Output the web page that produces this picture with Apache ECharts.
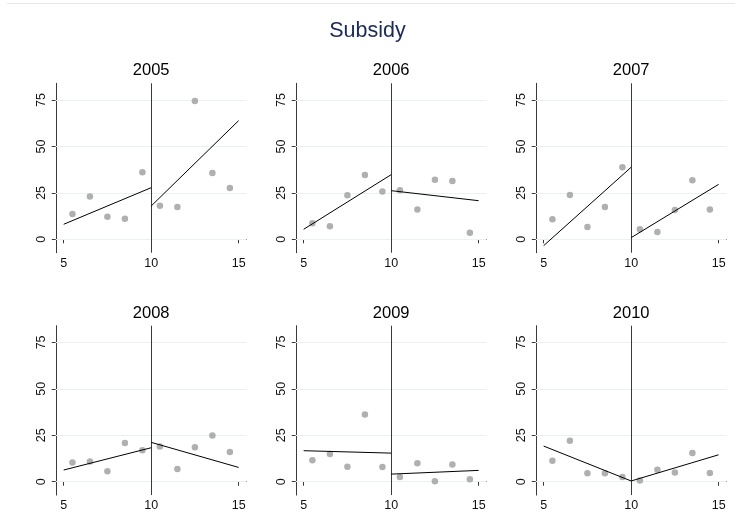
<!DOCTYPE html>
<html>
<head>
<meta charset="utf-8">
<script src="https://cdn.jsdelivr.net/npm/echarts@6/dist/echarts.min.js"></script>
<style>html,body{margin:0;padding:0;background:#fff;}#c{width:735px;height:523px;}</style>
</head>
<body>
<div id="c"></div>
<script>
const mainTitle = 'Subsidy';
const years = ['2005','2006','2007','2008','2009','2010'];
const xTicks = [5, 10, 15];
const yTicks = [0, 25, 50, 75];
const cutoff = 10;
const binX = [5.5, 6.5, 7.5, 8.5, 9.5, 10.5, 11.5, 12.5, 13.5, 14.5];
const leftX = [5, 10];
const rightX = [10, 15];

const y2005 = [13.6, 23.0, 12.2, 11.1, 36.1, 18.1, 17.4, 74.5, 35.7, 27.6];
const y2006 = [8.6, 7.0, 23.7, 34.6, 25.8, 26.4, 16.1, 32.1, 31.4, 3.6];
const y2007 = [10.8, 23.9, 6.6, 17.4, 38.8, 5.4, 3.9, 15.8, 31.8, 16.1];
const y2008 = [10.4, 10.9, 5.6, 20.8, 16.9, 19.0, 6.8, 18.5, 24.9, 16.0];
const y2009 = [11.5, 14.9, 8.1, 36.2, 7.9, 2.5, 9.9, 0.2, 9.3, 1.4];
const y2010 = [11.3, 22.1, 4.5, 4.5, 2.5, 0.7, 6.5, 5.0, 15.4, 4.7];

const fitL2005 = [8.1, 27.8],  fitR2005 = [17.9, 63.9];
const fitL2006 = [5.4, 34.8],  fitR2006 = [26.2, 20.8];
const fitL2007 = [-3.4, 38.8], fitR2007 = [0.9, 29.6];
const fitL2008 = [6.3, 18.3],  fitR2008 = [21.2, 7.7];
const fitL2009 = [16.7, 15.4], fitR2009 = [4.1, 6.1];
const fitL2010 = [19.2, 0.4],  fitR2010 = [0.4, 14.5];

const binY = [y2005, y2006, y2007, y2008, y2009, y2010];
const fitL = [fitL2005, fitL2006, fitL2007, fitL2008, fitL2009, fitL2010];
const fitR = [fitR2005, fitR2006, fitR2007, fitR2008, fitR2009, fitR2010];

// layout
const colLeft = [55.8, 295.8, 535.8];
const rowTop = [83.3, 325.7];
const gW = 190.7, gH = 169.4;
const xMin = 4.55, xMax = 15.45, yMin = -7.2, yMax = 84;

const grids = [], xAxes = [], yAxes = [], series = [], graphics = [];
const axisColor = '#3a3a3a';
const font = 'Liberation Sans, Arial, Helvetica, sans-serif';

years.forEach((yr, i) => {
  const col = i % 3, row = Math.floor(i / 3);
  grids.push({left: colLeft[col], top: rowTop[row], width: gW, height: gH});
  xAxes.push({
    type: 'value', gridIndex: i, min: xMin, max: xMax,
    axisLine: {show: true, lineStyle: {color: axisColor, width: 1}},
    axisTick: {show: true, length: 4, customValues: xTicks, lineStyle: {color: axisColor}},
    axisLabel: {customValues: xTicks, fontSize: 12.5, color: '#111', margin: 4, fontFamily: font},
    splitLine: {show: false}
  });
  yAxes.push({
    type: 'value', gridIndex: i, min: yMin, max: yMax,
    axisLine: {show: true, lineStyle: {color: axisColor, width: 1}},
    axisTick: {show: true, length: 4, customValues: yTicks, lineStyle: {color: axisColor}},
    axisLabel: {customValues: yTicks, rotate: 90, fontSize: 12.5, color: '#111', margin: 8, fontFamily: font},
    splitLine: {show: false}
  });
  const mlData = yTicks.map(v => ({yAxis: v, lineStyle: {color: '#e9f1f3', width: 1, type: 'solid'}}));
  series.push({
    type: 'scatter', xAxisIndex: i, yAxisIndex: i,
    data: binX.map((x, k) => [x, binY[i][k]]),
    symbolSize: 6.5, itemStyle: {color: '#9c9c9c'}, z: 3,
    markLine: {silent: true, z: 1, symbol: 'none', label: {show: false}, animation: false, data: mlData}
  });
  series.push({
    type: 'line', xAxisIndex: i, yAxisIndex: i, symbol: 'none', z: 4,
    data: [],
    markLine: {silent: true, z: 6, symbol: 'none', label: {show: false}, animation: false,
      data: [{xAxis: cutoff, lineStyle: {color: '#3a3a3a', width: 1, type: 'solid'}}]}
  });
  series.push({
    type: 'line', xAxisIndex: i, yAxisIndex: i, symbol: 'none', z: 7,
    data: leftX.map((x, k) => [x, fitL[i][k]]),
    lineStyle: {color: '#000', width: 1}
  });
  series.push({
    type: 'line', xAxisIndex: i, yAxisIndex: i, symbol: 'none', z: 7,
    data: rightX.map((x, k) => [x, fitR[i][k]]),
    lineStyle: {color: '#000', width: 1}
  });
  graphics.push({
    type: 'text', x: colLeft[col] + (cutoff - xMin) / (xMax - xMin) * gW,
    y: rowTop[row] - 12.5,
    style: {text: yr, fontSize: 16.5, fill: '#000', align: 'center', verticalAlign: 'middle', fontFamily: font}
  });
});

graphics.push({
  type: 'line', shape: {x1: 7, y1: 3.5, x2: 735, y2: 3.5},
  style: {stroke: '#e6e6e6', lineWidth: 1}
});

const chart = echarts.init(document.getElementById('c'), null, {renderer: 'canvas'});
chart.setOption({
  backgroundColor: '#fff',
  animation: false,
  title: {text: mainTitle, left: 'center', top: 20, padding: 0,
    textStyle: {fontSize: 21.5, fontWeight: 'normal', color: '#1c2b55', fontFamily: font}},
  grid: grids, xAxis: xAxes, yAxis: yAxes, series: series, graphic: graphics
});
</script>
</body>
</html>
